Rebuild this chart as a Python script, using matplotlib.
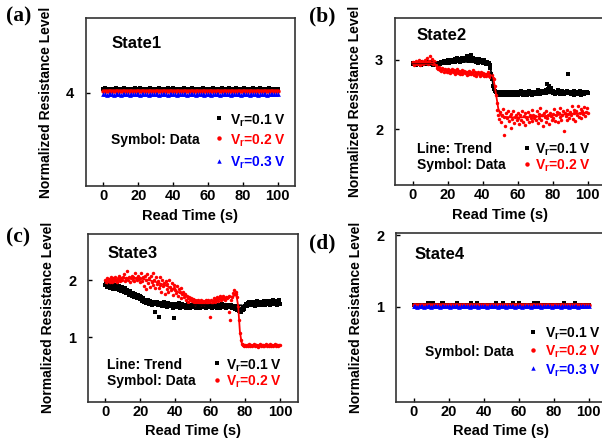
import numpy as np
import matplotlib
matplotlib.use('Agg')
import matplotlib.pyplot as plt

plt.rcParams['font.family'] = ['Liberation Sans', 'DejaVu Sans']
plt.rcParams['font.weight'] = 'bold'
plt.rcParams['mathtext.fontset'] = 'custom'
plt.rcParams['mathtext.rm'] = 'Liberation Sans:bold'
plt.rcParams['mathtext.bf'] = 'Liberation Sans:bold'
plt.rcParams['mathtext.it'] = 'Liberation Sans:bold'

# ---------------- data ----------------
x_ticks = [0, 20, 40, 60, 80, 100]
time_flat = np.arange(0, 101, 1)        # sampling times (s) for states 1 and 4
time_dense = np.arange(0, 100.5, 0.5)   # sampling times (s) for states 2 and 3

# State1
s1_v01 = [4.02,4.03,4.02,4.02,4.025,4.02,4.02,4.03,4.02,4.02,
          4.025,4.02,4.03,4.02,4.02,4.02,4.025,4.02,4.03,4.02,
          4.02,4.03,4.02,4.025,4.02,4.02,4.02,4.03,4.02,4.025,
          4.02,4.02,4.03,4.02,4.02,4.025,4.02,4.03,4.02,4.02,
          4.03,4.02,4.02,4.025,4.02,4.02,4.03,4.02,4.02,4.025,
          4.02,4.03,4.02,4.02,4.025,4.02,4.02,4.03,4.02,4.02,
          4.025,4.02,4.02,4.03,4.02,4.02,4.025,4.02,4.03,4.02,
          4.02,4.02,4.03,4.025,4.02,4.02,4.03,4.02,4.02,4.025,
          4.02,4.03,4.02,4.02,4.025,4.02,4.03,4.02,4.02,4.02,
          4.03,4.02,4.025,4.02,4.02,4.03,4.02,4.02,4.025,4.02,
          4.02]
s1_v02 = [4.010,4.012,4.009,4.011,4.010,4.013,4.009,4.010,4.012,4.011,
          4.009,4.010,4.012,4.010,4.011,4.009,4.013,4.010,4.011,4.010,
          4.012,4.009,4.010,4.011,4.012,4.010,4.009,4.011,4.010,4.012,
          4.010,4.011,4.009,4.012,4.010,4.011,4.010,4.009,4.012,4.010,
          4.011,4.010,4.012,4.009,4.010,4.011,4.013,4.010,4.009,4.011,
          4.010,4.012,4.010,4.011,4.009,4.010,4.012,4.011,4.010,4.009,
          4.011,4.010,4.012,4.010,4.009,4.011,4.010,4.012,4.011,4.010,
          4.009,4.012,4.010,4.011,4.010,4.009,4.012,4.010,4.011,4.010,
          4.012,4.010,4.009,4.011,4.010,4.012,4.010,4.011,4.009,4.010,
          4.011,4.012,4.010,4.009,4.011,4.010,4.012,4.010,4.011,4.010,
          4.010]
s1_v03 = [3.990,3.992,3.989,3.991,3.990,3.992,3.988,3.990,3.991,3.990,
          3.989,3.991,3.990,3.992,3.990,3.989,3.991,3.990,3.992,3.990,
          3.991,3.989,3.990,3.992,3.990,3.991,3.989,3.990,3.991,3.990,
          3.992,3.990,3.989,3.991,3.990,3.990,3.992,3.989,3.990,3.991,
          3.990,3.991,3.989,3.990,3.992,3.990,3.991,3.990,3.989,3.991,
          3.990,3.992,3.990,3.989,3.991,3.990,3.990,3.992,3.989,3.990,
          3.991,3.990,3.989,3.992,3.990,3.991,3.990,3.989,3.991,3.990,
          3.992,3.990,3.991,3.989,3.990,3.991,3.990,3.992,3.990,3.989,
          3.991,3.990,3.990,3.992,3.989,3.991,3.990,3.990,3.991,3.989,
          3.990,3.992,3.990,3.991,3.989,3.990,3.991,3.990,3.992,3.990,
          3.990]

# State2
s2_v01 = [2.95,2.94,2.96,2.95,2.93,2.96,2.95,2.94,2.97,2.95,2.93,2.96,2.95,2.94,2.96,2.95,2.97,2.94,2.95,2.96,
          2.94,2.95,2.97,2.93,2.95,2.96,2.94,2.95,2.96,2.93,2.95,2.94,2.96,2.97,2.95,2.96,2.98,2.95,2.97,2.96,
          2.97,2.99,2.96,2.98,3.00,2.97,2.99,2.98,3.01,2.97,2.99,3.02,2.98,3.00,2.97,3.01,2.99,3.03,2.98,3.00,
          3.02,2.99,3.05,3.01,2.98,3.04,3.00,3.07,2.99,3.02,2.98,3.01,2.97,3.00,2.99,2.96,3.01,2.98,2.97,3.00,
          2.97,2.95,2.99,2.96,2.94,2.97,2.95,2.96,2.93,2.88,2.80,2.72,2.62,2.58,2.55,2.53,2.51,2.53,2.50,2.52,
          2.51,2.53,2.50,2.52,2.54,2.51,2.49,2.52,2.53,2.50,2.52,2.51,2.54,2.50,2.52,2.53,2.49,2.51,2.52,2.54,
          2.52,2.50,2.53,2.51,2.55,2.52,2.50,2.53,2.51,2.54,2.52,2.50,2.53,2.55,2.51,2.52,2.54,2.50,2.53,2.52,
          2.54,2.51,2.53,2.56,2.52,2.54,2.51,2.55,2.53,2.52,2.55,2.53,2.52,2.56,2.65,2.58,2.62,2.55,2.60,2.53,
          2.52,2.55,2.53,2.51,2.54,2.52,2.56,2.53,2.51,2.54,2.52,2.55,2.53,2.51,2.54,2.52,2.53,2.55,2.80,2.52,
          2.53,2.51,2.54,2.52,2.55,2.50,2.53,2.52,2.54,2.51,2.53,2.55,2.52,2.50,2.54,2.53,2.51,2.54,2.52,2.53,
          2.52]
s2_v02 = [2.95,2.97,2.93,2.96,2.98,2.94,2.96,2.99,2.93,2.97,2.95,2.98,2.94,2.96,3.00,2.95,2.97,3.02,2.94,2.98,
          3.05,2.96,3.01,2.94,2.98,2.95,2.97,2.92,2.88,2.86,2.89,2.85,2.87,2.84,2.88,2.86,2.83,2.87,2.85,2.82,
          2.86,2.83,2.85,2.81,2.84,2.86,2.82,2.85,2.80,2.84,2.83,2.86,2.81,2.84,2.79,2.83,2.85,2.80,2.82,2.84,
          2.81,2.83,2.78,2.82,2.84,2.80,2.83,2.79,2.81,2.85,2.78,2.82,2.80,2.76,2.81,2.83,2.79,2.77,2.82,2.80,
          2.78,2.81,2.77,2.80,2.76,2.79,2.82,2.77,2.75,2.78,2.76,2.78,2.74,2.72,2.62,2.50,2.38,2.28,2.20,2.15,
          2.25,2.10,2.20,2.29,1.92,2.18,2.05,2.23,2.16,2.27,2.12,2.19,2.02,2.22,2.15,2.26,2.09,2.18,2.21,2.13,
          2.17,2.24,2.08,2.20,2.14,2.27,2.11,2.19,2.23,2.06,2.18,2.15,2.25,2.10,2.20,2.16,2.28,2.12,2.21,2.17,
          2.19,2.13,2.26,2.09,2.22,2.17,2.30,2.14,2.20,2.05,2.23,2.18,2.11,2.27,2.16,2.21,2.08,2.24,2.19,2.14,
          2.22,2.17,2.29,2.12,2.20,2.25,2.10,2.23,2.18,2.31,2.14,2.21,2.26,1.97,2.24,2.19,2.28,2.13,2.22,2.17,
          2.25,2.20,2.33,2.15,2.23,2.28,2.12,2.26,2.21,2.34,2.18,2.24,2.29,2.16,2.27,2.22,2.32,2.19,2.25,2.30,
          2.23]
s2_trend_t_v01 = [0, 14, 16, 30, 40, 44, 45, 46, 47, 48, 60, 80, 100]
s2_trend_v01 = [2.95, 2.95, 2.96, 2.97, 2.96, 2.93, 2.82, 2.65, 2.55, 2.52, 2.51, 2.52, 2.52]
s2_trend_t_v02 = [0, 12, 13.5, 15, 30, 44, 46, 47, 49, 51, 60, 70, 80, 90, 100]
s2_trend_v02 = [2.96, 2.96, 2.92, 2.86, 2.83, 2.79, 2.76, 2.62, 2.30, 2.18, 2.17, 2.18, 2.20, 2.22, 2.24]

# State3
s3_v01 = [1.92,1.97,1.88,1.94,1.90,1.86,1.95,1.89,1.93,1.85,1.91,1.87,1.84,1.92,1.88,1.83,1.90,1.86,1.81,1.88,
          1.84,1.79,1.86,1.80,1.77,1.83,1.78,1.74,1.81,1.76,1.72,1.78,1.74,1.70,1.76,1.71,1.68,1.74,1.69,1.72,
          1.67,1.71,1.64,1.69,1.62,1.66,1.60,1.64,1.61,1.66,1.59,1.63,1.60,1.57,1.62,1.58,1.61,1.44,1.59,1.62,
          1.57,1.36,1.60,1.56,1.59,1.54,1.58,1.61,1.55,1.58,1.53,1.57,1.60,1.54,1.58,1.55,1.59,1.52,1.34,1.56,
          1.58,1.53,1.57,1.55,1.60,1.52,1.56,1.54,1.58,1.53,1.57,1.55,1.51,1.56,1.59,1.54,1.57,1.52,1.56,1.54,
          1.55,1.58,1.53,1.56,1.51,1.57,1.54,1.59,1.52,1.55,1.57,1.53,1.56,1.54,1.58,1.51,1.55,1.57,1.53,1.56,
          1.54,1.57,1.52,1.55,1.58,1.53,1.56,1.54,1.51,1.57,1.55,1.52,1.56,1.54,1.58,1.53,1.55,1.57,1.52,1.56,
          1.55,1.53,1.57,1.54,1.56,1.52,1.55,1.53,1.50,1.54,1.51,1.48,1.52,1.46,1.49,1.44,1.50,1.47,1.53,1.49,
          1.55,1.58,1.54,1.60,1.57,1.61,1.56,1.59,1.62,1.57,1.60,1.55,1.61,1.58,1.63,1.56,1.60,1.59,1.62,1.57,
          1.61,1.58,1.63,1.56,1.60,1.64,1.58,1.61,1.57,1.63,1.59,1.62,1.66,1.58,1.61,1.64,1.57,1.62,1.60,1.65,
          1.58]
s3_v02 = [2.00,1.95,2.04,1.98,2.02,1.96,2.06,2.00,1.97,2.03,1.99,2.05,2.01,1.96,2.04,2.00,2.07,1.98,2.03,2.01,
          2.05,2.10,1.99,2.04,2.02,2.16,2.00,2.06,1.97,2.03,2.08,2.01,2.05,1.98,2.12,2.03,2.00,2.07,2.02,1.96,
          2.04,2.13,1.98,2.05,1.90,2.08,2.01,1.85,2.10,1.95,2.03,1.88,2.07,1.97,2.12,1.92,2.00,1.86,2.05,1.94,
          1.98,1.87,2.06,1.92,1.80,2.01,1.89,1.95,1.76,1.98,1.85,1.93,1.79,2.00,1.88,1.82,1.95,1.74,1.86,1.91,
          1.83,1.77,1.89,1.72,1.84,1.79,1.69,1.86,1.75,1.80,1.70,1.76,1.66,1.73,1.68,1.62,1.71,1.65,1.69,1.63,
          1.67,1.61,1.65,1.59,1.64,1.62,1.66,1.60,1.63,1.58,1.65,1.61,1.64,1.59,1.63,1.66,1.60,1.62,1.65,1.61,
          1.36,1.66,1.60,1.64,1.68,1.62,1.67,1.65,1.70,1.64,1.68,1.72,1.66,1.70,1.67,1.73,1.69,1.66,1.71,1.68,
          1.70,1.45,1.72,1.30,1.65,1.70,1.78,1.82,1.75,1.80,1.76,1.70,1.55,1.30,1.08,0.95,0.89,0.86,0.87,0.85,
          0.86,0.84,0.87,0.85,0.88,0.86,0.84,0.87,0.85,0.86,0.88,0.84,0.86,0.87,0.85,0.83,0.86,0.88,0.85,0.87,
          0.85,0.87,0.84,0.86,0.88,0.85,0.87,0.84,0.86,0.89,0.85,0.87,0.84,0.86,0.88,0.85,0.87,0.86,0.84,0.87,
          0.86]
s3_trend_t_v01 = [0, 5, 10, 15, 20, 25, 30, 78]
s3_trend_v01 = [1.92, 1.87, 1.80, 1.72, 1.65, 1.60, 1.57, 1.56]
s3_trend_t_v02 = [0, 5, 10, 15, 20, 25, 30, 35, 40, 45, 50, 55, 60, 65, 70, 73, 75, 76, 77, 78, 80, 90, 100]
s3_trend_v02 = [1.99, 2.01, 2.03, 2.04, 2.03, 2.00, 1.96, 1.90, 1.82, 1.74, 1.67, 1.63, 1.63, 1.66, 1.69,
                1.72, 1.74, 1.55, 1.10, 0.90, 0.86, 0.86, 0.86]

# State4
s4_v01 = [1.025,1.025,1.03,1.025,1.025,1.025,1.03,1.025,1.055,1.055,1.025,1.055,1.025,1.03,1.025,1.025,1.055,1.055,1.025,1.03,
          1.025,1.025,1.03,1.025,1.025,1.055,1.025,1.025,1.03,1.025,1.025,1.025,1.03,1.055,1.025,1.025,1.055,1.03,1.025,1.025,
          1.03,1.025,1.025,1.025,1.03,1.025,1.025,1.055,1.025,1.03,1.025,1.055,1.025,1.025,1.03,1.025,1.025,1.055,1.025,1.03,
          1.055,1.025,1.025,1.03,1.025,1.025,1.025,1.03,1.025,1.055,1.025,1.055,1.025,1.03,1.025,1.025,1.025,1.03,1.025,1.025,
          1.03,1.025,1.025,1.025,1.03,1.025,1.055,1.025,1.025,1.03,1.025,1.025,1.055,1.025,1.03,1.025,1.025,1.025,1.03,1.025,
          1.025]
s4_v02 = [1.022,1.024,1.021,1.023,1.022,1.025,1.021,1.022,1.024,1.023,1.021,1.022,1.024,1.022,1.023,1.021,1.025,1.022,1.023,1.022,
          1.024,1.021,1.022,1.023,1.024,1.022,1.021,1.023,1.022,1.024,1.022,1.023,1.021,1.024,1.022,1.023,1.022,1.021,1.024,1.022,
          1.023,1.022,1.024,1.021,1.022,1.023,1.025,1.022,1.021,1.023,1.022,1.024,1.022,1.023,1.021,1.022,1.024,1.023,1.022,1.021,
          1.023,1.022,1.024,1.022,1.021,1.023,1.022,1.024,1.023,1.022,1.021,1.024,1.022,1.023,1.022,1.021,1.024,1.022,1.023,1.022,
          1.024,1.022,1.021,1.023,1.022,1.024,1.022,1.023,1.021,1.022,1.023,1.024,1.022,1.021,1.023,1.022,1.024,1.022,1.023,1.022,
          1.022]
s4_v03 = [1.003,1.005,1.002,1.004,1.003,1.005,1.002,1.003,1.004,1.003,1.002,1.004,1.003,1.005,1.003,1.002,1.004,1.003,1.005,1.003,
          1.004,1.002,1.003,1.005,1.003,1.004,1.002,1.003,1.004,1.003,1.005,1.003,1.002,1.004,1.003,1.003,1.005,1.002,1.003,1.004,
          1.003,1.004,1.002,1.003,1.005,1.003,1.004,1.003,1.002,1.004,1.003,1.005,1.003,1.002,1.004,1.003,1.003,1.005,1.002,1.003,
          1.004,1.003,1.002,1.005,1.003,1.004,1.003,1.002,1.004,1.003,1.005,1.003,1.004,1.002,1.003,1.004,1.003,1.005,1.003,1.002,
          1.004,1.003,1.003,1.005,1.002,1.004,1.003,1.003,1.004,1.002,1.003,1.005,1.003,1.004,1.002,1.003,1.004,1.003,1.005,1.003,
          1.003]

labels_v = [r'V$_{\mathrm{r}}$=0.1 V', r'V$_{\mathrm{r}}$=0.2 V', r'V$_{\mathrm{r}}$=0.3 V']
colors = ['black', '#ff0000', '#0000ff']
markers = ['s', 'o', '^']

# ---------------- figure ----------------
W, H = 602, 445
fig = plt.figure(figsize=(W / 100, H / 100), dpi=100)


def px_axes(left, top, right, bottom):
    return fig.add_axes([left / W, 1 - bottom / H, (right - left) / W, (bottom - top) / H])


axA = px_axes(86, 18, 295, 186)
axB = px_axes(395, 18, 605, 185)
axC = px_axes(88, 234, 297.5, 401.7)
axD = px_axes(396, 233.3, 606, 401.7)


def style(ax, ylim, yticks):
    ax.set_xlim(-10, 110)
    ax.set_xticks(x_ticks)
    ax.set_ylim(*ylim)
    ax.set_yticks(yticks)
    ax.tick_params(direction='in', length=3, width=1, labelsize=10.5, colors='black')
    ax.tick_params(axis='x', pad=2.5)
    ax.tick_params(axis='y', pad=8.5)
    for s in ax.spines.values():
        s.set_linewidth(1.2)
        s.set_color('#333333')
    ax.set_xlabel('Read Time (s)', fontsize=10.5, fontweight='bold')
    ax.xaxis.set_label_coords(0.5, -0.135)
    ax.set_ylabel('Normalized Resistance Level', fontsize=10, fontweight='bold')
    ax.yaxis.set_label_coords(-0.158, 0.5)


def legend(ax, mx, tx, rows, n):
    for i in range(n):
        yc = rows[i]
        ax.plot([mx], [yc], transform=ax.transAxes, marker=markers[i], color=colors[i],
                markersize=3.2, mew=0, linestyle='none', clip_on=False)
        ax.text(tx, yc, labels_v[i], transform=ax.transAxes, color=colors[i],
                fontsize=10, fontweight='bold', va='center_baseline', ha='left')


def scatter(ax, t, y, i, ms=2.4):
    ax.plot(t, y, linestyle='none', marker=markers[i], color=colors[i], markersize=ms, mew=0)


# (a) State1
scatter(axA, time_flat, s1_v01, 0, 2.6)
scatter(axA, time_flat, s1_v02, 1, 3.2)
scatter(axA, time_flat, s1_v03, 2, 3.4)
style(axA, (3.445, 4.445), [4])
axA.text(0.12, 0.848, 'State1', transform=axA.transAxes, fontsize=12, fontweight='bold', va='center')
axA.text(0.12, 0.284, 'Symbol: Data', transform=axA.transAxes, fontsize=10, fontweight='bold', va='center_baseline')
legend(axA, 0.636, 0.689, [0.403, 0.284, 0.151], 3)

# (b) State2
scatter(axB, time_dense, s2_v01, 0, 2.5)
scatter(axB, time_dense, s2_v02, 1, 2.5)
axB.plot(s2_trend_t_v01, s2_trend_v01, color='black', lw=1.3)
axB.plot(s2_trend_t_v02, s2_trend_v02, color='#ff0000', lw=1.3)
style(axB, (1.2, 3.6), [2, 3])
axB.text(0.103, 0.895, 'State2', transform=axB.transAxes, fontsize=12, fontweight='bold', va='center')
axB.text(0.103, 0.223, 'Line: Trend', transform=axB.transAxes, fontsize=10, fontweight='bold', va='center_baseline')
axB.text(0.103, 0.127, 'Symbol: Data', transform=axB.transAxes, fontsize=10, fontweight='bold', va='center_baseline')
legend(axB, 0.627, 0.667, [0.223, 0.127], 2)

# (c) State3
scatter(axC, time_dense, s3_v01, 0, 2.5)
scatter(axC, time_dense, s3_v02, 1, 2.5)
axC.plot(s3_trend_t_v01, s3_trend_v01, color='black', lw=1.3)
axC.plot(s3_trend_t_v02, s3_trend_v02, color='#ff0000', lw=1.3)
style(axC, (-0.13, 2.81), [1, 2])
axC.text(0.091, 0.881, 'State3', transform=axC.transAxes, fontsize=12, fontweight='bold', va='center')
axC.text(0.092, 0.229, 'Line: Trend', transform=axC.transAxes, fontsize=10, fontweight='bold', va='center_baseline')
axC.text(0.092, 0.130, 'Symbol: Data', transform=axC.transAxes, fontsize=10, fontweight='bold', va='center_baseline')
legend(axC, 0.617, 0.659, [0.229, 0.130], 2)

# (d) State4
scatter(axD, time_flat, s4_v01, 0, 2.6)
scatter(axD, time_flat, s4_v02, 1, 3.2)
scatter(axD, time_flat, s4_v03, 2, 3.4)
style(axD, (-0.325, 2.024), [1, 2])
axD.text(0.09, 0.877, 'State4', transform=axD.transAxes, fontsize=12, fontweight='bold', va='center')
axD.text(0.138, 0.307, 'Symbol: Data', transform=axD.transAxes, fontsize=10, fontweight='bold', va='center_baseline')
legend(axD, 0.654, 0.71, [0.416, 0.307, 0.198], 3)

# panel letters
for lab, x, y in [('(a)', 6, 16.7), ('(b)', 309, 16.7), ('(c)', 6, 237.5), ('(d)', 309, 243.3)]:
    fig.text(x / W, 1 - y / H, lab, family='Liberation Serif', fontweight='bold', fontsize=15.5,
             ha='left', va='center')

fig.savefig('out.png', dpi=100)
